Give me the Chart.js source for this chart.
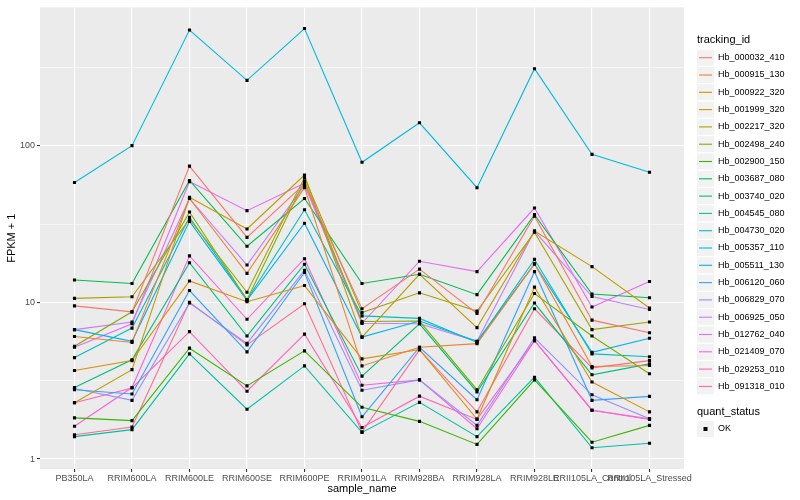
<!DOCTYPE html>
<html>
<head>
<meta charset="utf-8">
<script src="https://cdn.jsdelivr.net/npm/chart.js@4.4.0/dist/chart.umd.min.js"></script>
<style>
  html, body { margin: 0; padding: 0; background: #fff; }
</style>
</head>
<body>
<canvas id="chart" width="800" height="500"></canvas>
<script>
// sample names on the x axis
const categories = ['PB350LA', 'RRIM600LA', 'RRIM600LE', 'RRIM600SE', 'RRIM600PE', 'RRIM901LA',
  'RRIM928BA', 'RRIM928LA', 'RRIM928LE', 'RRII105LA_Control', 'RRII105LA_Stressed'];

// FPKM + 1 per tracking id
const hb_000032_410 = [9.5, 8.7, 74, 26, 57, 9.1, 16.3, 8.5, 35.5, 7.7, 6.4];
const hb_000915_130 = [6.06, 5.55, 46, 15.3, 54, 3.93, 5.17, 5.45, 17.6, 3.9, 3.95];
const hb_000922_320 = [3.67, 4.25, 13.7, 10.1, 12.8, 4.36, 5.0, 1.8, 12.5, 3.1, 2.0];
const hb_001999_320 = [2.29, 3.72, 46.8, 29.4, 65, 6.0, 15.1, 6.9, 28.5, 16.9, 9.2];
const hb_002217_320 = [10.6, 10.85, 34, 11.6, 62.6, 8.6, 11.5, 8.8, 28, 6.7, 7.5];
const hb_002498_240 = [5.24, 8.7, 37.7, 10.4, 59.7, 7.55, 7.6, 2.77, 11.4, 6.1, 3.5];
const hb_002900_150 = [1.83, 1.76, 5.1, 2.93, 4.9, 2.14, 1.74, 1.24, 3.2, 1.28, 1.64];
const hb_003687_080 = [13.9, 13.2, 60, 22.8, 46, 13.2, 15.1, 11.2, 36.3, 11.3, 10.7];
const hb_003740_020 = [2.86, 4.3, 17.9, 6.1, 17.5, 3.38, 7.3, 2.68, 9.9, 3.45, 4.05];
const hb_004545_080 = [1.39, 1.54, 4.69, 2.08, 3.93, 1.48, 2.3, 1.39, 3.33, 1.18, 1.26];
const hb_004730_020 = [4.44, 6.85, 34.9, 10.4, 39, 8.2, 7.9, 5.55, 18.8, 4.69, 4.5];
const hb_005357_110 = [58.2, 100, 547, 261, 559, 78.3, 140, 53.9, 310, 88, 67.7];
const hb_005511_130 = [6.7, 5.64, 32.9, 10.3, 32, 6.0, 7.6, 5.64, 17.6, 4.8, 5.9];
const hb_006120_060 = [2.77, 2.6, 11.9, 4.83, 15.5, 1.86, 5.17, 2.39, 15.7, 2.37, 2.51];
const hb_006829_070 = [2.82, 2.37, 9.9, 5.47, 16, 2.75, 3.2, 1.64, 5.94, 2.57, 1.81];
const hb_006925_050 = [6.7, 7.5, 46, 17.3, 56, 7.35, 7.3, 5.64, 28.5, 10.9, 9.0];
const hb_012762_040 = [5.17, 7.3, 59, 38.5, 57.5, 7.35, 18.3, 15.7, 40, 9.35, 13.6];
const hb_021409_070 = [1.62, 2.86, 19.8, 7.8, 19.0, 2.96, 3.2, 1.56, 5.7, 2.05, 1.79];
const hb_029253_010 = [2.29, 2.84, 6.5, 2.71, 6.27, 1.59, 2.52, 1.79, 5.7, 2.05, 1.81];
const hb_091318_010 = [1.43, 1.6, 10.0, 5.35, 9.8, 1.49, 4.97, 2.0, 9.1, 3.82, 4.25];

const trackingIds = ['Hb_000032_410', 'Hb_000915_130', 'Hb_000922_320', 'Hb_001999_320', 'Hb_002217_320',
  'Hb_002498_240', 'Hb_002900_150', 'Hb_003687_080', 'Hb_003740_020', 'Hb_004545_080',
  'Hb_004730_020', 'Hb_005357_110', 'Hb_005511_130', 'Hb_006120_060', 'Hb_006829_070',
  'Hb_006925_050', 'Hb_012762_040', 'Hb_021409_070', 'Hb_029253_010', 'Hb_091318_010'];
const seriesValues = [hb_000032_410, hb_000915_130, hb_000922_320, hb_001999_320, hb_002217_320,
  hb_002498_240, hb_002900_150, hb_003687_080, hb_003740_020, hb_004545_080,
  hb_004730_020, hb_005357_110, hb_005511_130, hb_006120_060, hb_006829_070,
  hb_006925_050, hb_012762_040, hb_021409_070, hb_029253_010, hb_091318_010];

// y ticks: labelled decades plus the minor lines in between
const yMajor = [1, 10, 100];
const yMinor = [3.1623, 31.623, 316.23];

// ggplot default hue palette for 20 groups
const palette = ['#F8766D', '#EA8331', '#D89000', '#C09B00', '#A3A500', '#7CAE00', '#39B600', '#00BB4E',
  '#00BF7D', '#00C1A3', '#00BFC4', '#00BAE0', '#00B0F6', '#35A2FF', '#9590FF', '#C77CFF',
  '#E76BF3', '#FA62DB', '#FF62BC', '#FF6C91'];

const FONT = '"Liberation Sans", Arial, sans-serif';
Chart.defaults.font.family = FONT;

const lineSets = seriesValues.map((vals, k) => ({
  type: 'line',
  label: trackingIds[k],
  data: vals.map((v, i) => ({ x: i, y: v })),
  borderColor: palette[k],
  backgroundColor: palette[k],
  borderWidth: 1.1,
  pointRadius: 0,
  tension: 0,
  order: 2,
}));

// all points in one layer on top (quant_status = OK)
const pointSet = {
  type: 'scatter',
  label: 'OK',
  data: seriesValues.flatMap(vals => vals.map((v, i) => ({ x: i, y: v }))),
  pointStyle: 'rect',
  pointRadius: 2.2,
  borderWidth: 0,
  backgroundColor: '#000',
  order: 1,
};

const panelBg = {
  id: 'panelBg',
  beforeDraw(chart) {
    const { ctx, chartArea: a } = chart;
    ctx.save();
    ctx.fillStyle = '#EBEBEB';
    ctx.fillRect(a.left, a.top, a.right - a.left, a.bottom - a.top);
    ctx.restore();
  }
};

// ggplot style legend on the right
const sideLegend = {
  id: 'sideLegend',
  afterDraw(chart) {
    const ctx = chart.ctx;
    const x0 = 697, step = 17.3, first = 57.7;
    ctx.save();
    ctx.textBaseline = 'middle';
    ctx.fillStyle = '#000';
    ctx.font = '11px ' + FONT;
    ctx.fillText('tracking_id', x0, 40);
    ctx.font = '9px ' + FONT;
    lineSets.forEach((ds, k) => {
      const cy = first + k * step;
      ctx.fillStyle = '#F2F2F2';
      ctx.fillRect(x0, cy - 8, 17, 16);
      ctx.strokeStyle = ds.borderColor;
      ctx.lineWidth = 1.1;
      ctx.beginPath();
      ctx.moveTo(x0 + 2, cy);
      ctx.lineTo(x0 + 15, cy);
      ctx.stroke();
      ctx.fillStyle = '#000';
      ctx.fillText(ds.label, x0 + 21, cy);
    });
    ctx.font = '11px ' + FONT;
    ctx.fillText('quant_status', x0, 412);
    const cy = 429;
    ctx.fillStyle = '#F2F2F2';
    ctx.fillRect(x0, cy - 8, 17, 16);
    ctx.fillStyle = '#000';
    ctx.fillRect(x0 + 6.5, cy - 2, 4, 4);
    ctx.font = '9px ' + FONT;
    ctx.fillText(pointSet.label, x0 + 21, cy);
    ctx.restore();
  }
};

new Chart(document.getElementById('chart'), {
  data: { datasets: [...lineSets, pointSet] },
  options: {
    responsive: false,
    animation: false,
    layout: { padding: { top: 5, right: 116, left: 0, bottom: 0 } },
    plugins: { legend: { display: false }, tooltip: { enabled: false } },
    scales: {
      x: {
        type: 'linear',
        min: -0.6,
        max: 10.6,
        afterBuildTicks: s => { s.ticks = categories.map((c, i) => ({ value: i })); },
        afterFit: s => { s.height = 31; },
        ticks: {
          callback: v => categories[v] ?? '',
          autoSkip: false, maxRotation: 0, minRotation: 0,
          color: '#4D4D4D', font: { size: 9 }, padding: 1,
        },
        grid: { color: '#FFFFFF', lineWidth: 1.1, tickColor: '#333333', tickLength: 3 },
        border: { display: false },
        title: { display: true, text: 'sample_name', color: '#000', font: { size: 11 }, padding: { top: 0, bottom: 4 } },
      },
      y: {
        type: 'logarithmic',
        min: 0.8639,
        max: 762.9,
        afterBuildTicks: s => { s.ticks = [...yMajor, ...yMinor].sort((a, b) => a - b).map(v => ({ value: v })); },
        afterFit: s => { s.width = 40; },
        ticks: {
          callback: v => yMajor.includes(v) ? String(v) : '',
          color: '#4D4D4D', font: { size: 9 }, padding: 2,
        },
        grid: {
          color: '#FFFFFF',
          lineWidth: c => yMajor.includes(c.tick.value) ? 1.1 : 0.55,
          tickColor: c => yMajor.includes(c.tick.value) ? '#333333' : 'rgba(0,0,0,0)',
          tickLength: 3,
        },
        border: { display: false },
        title: { display: true, text: 'FPKM + 1', color: '#000', font: { size: 11 }, padding: { top: 5, bottom: 0 } },
      }
    }
  },
  plugins: [panelBg, sideLegend]
});
</script>
</body>
</html>
